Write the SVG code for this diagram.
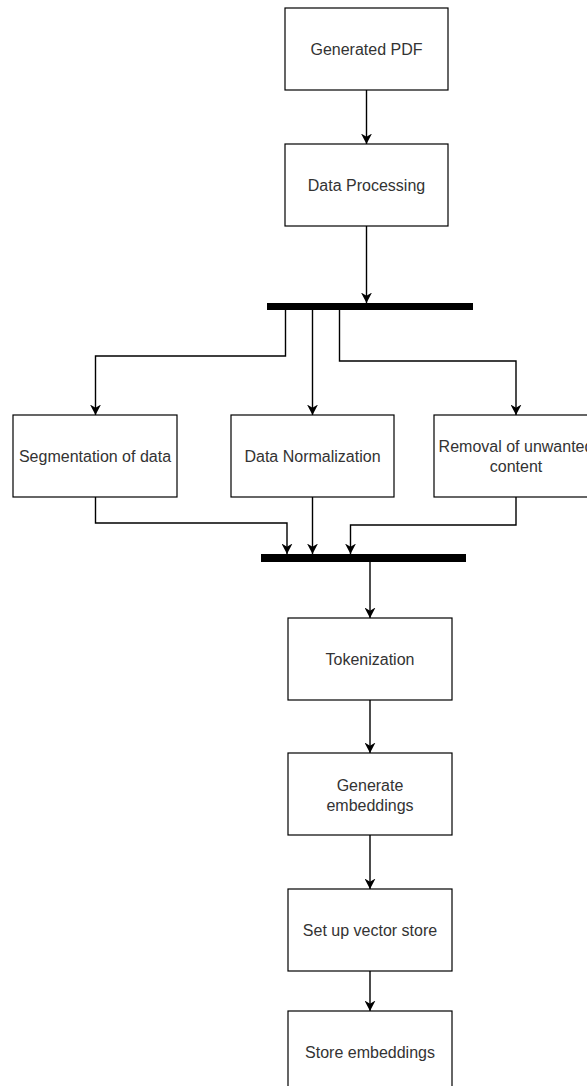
<svg xmlns="http://www.w3.org/2000/svg" width="587" height="1086" viewBox="0 0 587 1086">
  <style>
    .box { fill: #ffffff; stroke: #000000; stroke-width: 1.2; }
    .bar { fill: #000000; }
    .lbl { font-family: "Liberation Sans", Arial, sans-serif; font-size: 16px; fill: #333333; text-anchor: middle; }
    .edge { fill: none; stroke: #000000; stroke-width: 1.4; marker-end: url(#arrow); }
  </style>
  <defs>
    <marker id="arrow" viewBox="0 0 11 11" refX="10.5" refY="5.5" markerWidth="11" markerHeight="11" markerUnits="userSpaceOnUse" orient="auto">
      <path d="M0,0 L10.5,5.5 L0,11 L3.2,5.5 z" fill="#000000"/>
    </marker>
  </defs>
  <rect width="587" height="1086" fill="#ffffff"/>

  <!-- connectors -->
  <g id="connectors">
    <path class="edge" d="M366.5,90 V144"/>
    <path class="edge" d="M366.5,226 V303"/>
    <path class="edge" d="M285.5,310 V356 H95.5 V415"/>
    <path class="edge" d="M312.5,310 V415"/>
    <path class="edge" d="M339.5,310 V361 H516 V415"/>
    <path class="edge" d="M95.5,497 V523 H287 V554"/>
    <path class="edge" d="M312.5,497 V554"/>
    <path class="edge" d="M516,497 V525 H350.5 V554"/>
    <path class="edge" d="M370,562 V618"/>
    <path class="edge" d="M370,700 V753"/>
    <path class="edge" d="M370,835 V889"/>
    <path class="edge" d="M370,971 V1011"/>
  </g>

  <!-- fork and join bars -->
  <g id="fork">
    <rect class="bar" x="267" y="303" width="206" height="7"/>
  </g>
  <g id="join">
    <rect class="bar" x="261" y="554" width="205" height="8"/>
  </g>

  <g id="generated-pdf">
    <rect class="box" x="285" y="8" width="163" height="82"/>
    <text class="lbl" x="366.5" y="54.5">Generated PDF</text>
  </g>
  <g id="data-processing">
    <rect class="box" x="285" y="144" width="163" height="82"/>
    <text class="lbl" x="366.5" y="190.5">Data Processing</text>
  </g>
  <g id="segmentation">
    <rect class="box" x="13" y="415" width="164" height="82"/>
    <text class="lbl" x="95" y="461.5">Segmentation of data</text>
  </g>
  <g id="normalization">
    <rect class="box" x="231" y="415" width="163" height="82"/>
    <text class="lbl" x="312.5" y="461.5">Data Normalization</text>
  </g>
  <g id="removal">
    <rect class="box" x="434" y="415" width="164" height="82"/>
    <text class="lbl" x="516" y="451.5">Removal of unwanted</text>
    <text class="lbl" x="516" y="471.5">content</text>
  </g>
  <g id="tokenization">
    <rect class="box" x="288" y="618" width="164" height="82"/>
    <text class="lbl" x="370" y="664.5">Tokenization</text>
  </g>
  <g id="generate-embeddings">
    <rect class="box" x="288" y="753" width="164" height="82"/>
    <text class="lbl" x="370" y="790.5">Generate</text>
    <text class="lbl" x="370" y="810.5">embeddings</text>
  </g>
  <g id="vector-store">
    <rect class="box" x="288" y="889" width="164" height="82"/>
    <text class="lbl" x="370" y="935.5">Set up vector store</text>
  </g>
  <g id="store-embeddings">
    <rect class="box" x="288" y="1011" width="164" height="82"/>
    <text class="lbl" x="370" y="1057.5">Store embeddings</text>
  </g>
</svg>
